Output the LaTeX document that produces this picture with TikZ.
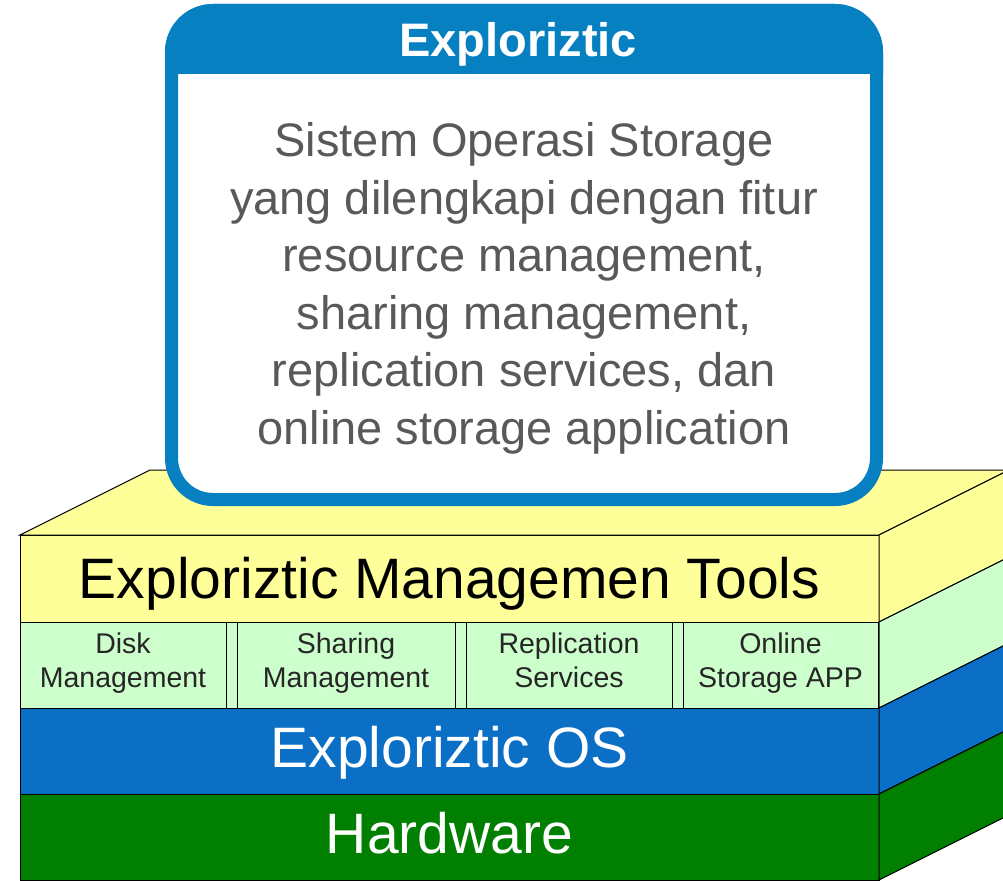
\documentclass[tikz,border=0pt]{standalone}
\usepackage{fontspec}
\setmainfont{Liberation Sans}
\usetikzlibrary{positioning}

\definecolor{toolyellow}{HTML}{FFFF99}
\definecolor{modgreen}{HTML}{CCFFCC}
\definecolor{osblue}{HTML}{0C6FC6}
\definecolor{hwgreen}{HTML}{007F00}
\definecolor{calloutblue}{HTML}{0780C2}
\definecolor{desctext}{HTML}{595959}
\definecolor{modtext}{HTML}{262626}

\begin{document}
\begin{tikzpicture}[
        x=1pt, y=1pt,
        layer/.style={
          draw=black,
          line width=1pt,
          minimum width=859pt,
          minimum height=86pt,
          inner sep=0pt,
          outer sep=0pt,
          text height=41pt,
          text depth=8pt,
          font=\fontsize{57}{60}\selectfont
        },
        module/.style={
          draw=black,
          line width=1pt,
          fill=modgreen,
          minimum height=86pt,
          inner sep=0pt,
          outer sep=0pt,
          align=center,
          text=modtext,
          execute at begin node=\strut,
          execute at end node=\strut,
          font=\fontsize{28.5}{34}\selectfont
        },
        face/.style={
          draw=black,
          line width=1pt
        },
        callout/.style={
          draw=calloutblue,
          line width=13pt,
          fill=white,
          rounded corners=41.5pt,
          minimum width=705pt,
          minimum height=489pt,
          inner sep=0pt
        },
        node distance=11pt
      ]
        \useasboundingbox (0,0) rectangle (1003,-880);

        % front of the stack
        \node[layer, fill=toolyellow, minimum height=87pt, text depth=2pt, anchor=north west] (tools) at (20,-535) {Exploriztic Managemen Tools};
        \node[layer, fill=modgreen, below=0pt of tools] (mods) {};
        \node[layer, fill=osblue, text=white, below=0pt of mods] (os) {Exploriztic OS};
        \node[layer, fill=hwgreen, text=white, below=0pt of os] (hw) {Hardware};

        % top and right faces
        \draw[face, fill=toolyellow] (tools.north west) -- ++(130,65) -- ([shift={(130,65)}]tools.north east) -- (tools.north east) -- cycle;
        \foreach \l/\c in {tools/toolyellow, mods/modgreen, os/osblue, hw/hwgreen}
          \draw[face, fill=\c] (\l.north east) -- ++(130,65) -- ([shift={(130,65)}]\l.south east) -- (\l.south east) -- cycle;

        \node[module, minimum width=206pt, anchor=north west] (disk) at (mods.north west) {Disk\\Management};
        \node[module, minimum width=218pt, right=of disk] (sharing) {Sharing\\Management};
        \node[module, minimum width=206pt, right=of sharing] (repl) {Replication\\Services};
        \node[module, minimum width=195pt, right=of repl] (online) {Online\\Storage APP};

        % callout on top
        \node[callout] (box) at (524,-255) {};
        \begin{scope}
          \clip (160,0) rectangle (890,-74);
          \fill[calloutblue, rounded corners=48pt] (165,-4) rectangle (883,-140);
        \end{scope}
        \node[text=white, anchor=base, font=\bfseries\fontsize{47}{50}\selectfont] (title) at (518,-57) {Exploriztic};
        \node[text=desctext, anchor=north, align=center, inner sep=0pt, font=\fontsize{47}{57.5}\selectfont] (desc) at (524,-122.5) {Sistem Operasi Storage\\yang dilengkapi dengan fitur\\resource management,\\sharing management,\\replication services, dan\\online storage application};
      \end{tikzpicture}
\end{document}
